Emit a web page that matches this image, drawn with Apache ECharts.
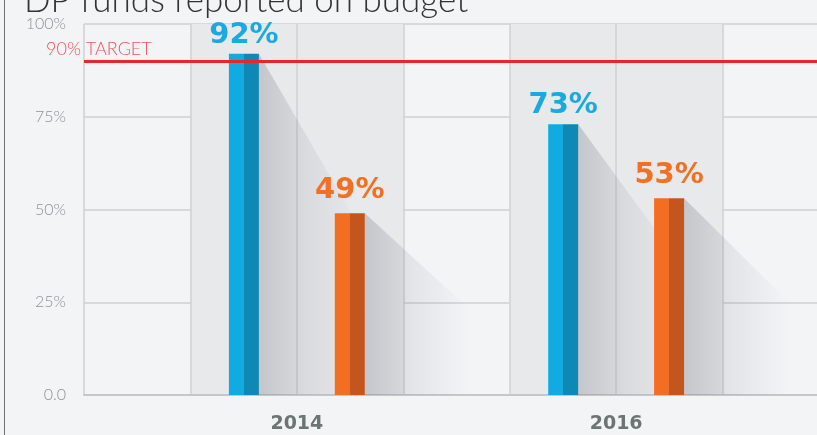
<!DOCTYPE html>
<html><head><meta charset="utf-8">
<script src="https://cdn.jsdelivr.net/npm/echarts@6/dist/echarts.min.js"></script>
<style>html,body{margin:0;padding:0;background:#f3f4f6}#c{width:817px;height:435px}</style>
</head><body><div id="c"></div>
<script>
const titleText = 'DP funds reported on budget';
const years = ['2014', '2016'];
const blueValues = [92, 73];
const orangeValues = [49, 53];
const yTickLabels = ['0.0', '25%', '50%', '75%', '100%'];
const targetValue = 90;
const targetLabel = '90% TARGET';

// axis slots: padding columns around each year
const slots = [''];
years.forEach(y => slots.push('', y, ''));
slots.push('');
const slotOf = y => slots.indexOf(y);
const blueData = years.map((y, i) => [slotOf(y), blueValues[i]]);
const orangeData = years.map((y, i) => [slotOf(y), orangeValues[i]]);

const barW = 30, gapRatio = 2.53;
const barOffset = barW * (1 + gapRatio) / 2;

function twoTone(light, dark) {
  return new echarts.graphic.LinearGradient(0, 0, 1, 0, [
    {offset: 0, color: light}, {offset: 0.5, color: light},
    {offset: 0.5, color: dark}, {offset: 1, color: dark}
  ]);
}

function shadowSeries(data, side) {
  return {
    type: 'custom', z: 1, silent: true, data: data,
    renderItem: function (params, api) {
      const slot = api.value(0), v = api.value(1);
      const top = api.coord([slot, v]);
      const base = api.coord([slot, 0]);
      const xr = top[0] + side * barOffset + barW / 2;
      const h = base[1] - top[1];
      const w = 105;
      return {
        type: 'polygon',
        shape: {points: [[xr, top[1]], [xr + w, top[1] + h * 0.53], [xr + w, base[1]], [xr, base[1]]]},
        style: {fill: new echarts.graphic.LinearGradient(0, 0, 1, 0, [
          {offset: 0, color: 'rgba(70,76,92,0.22)'},
          {offset: 0.45, color: 'rgba(70,76,92,0.09)'},
          {offset: 1, color: 'rgba(70,76,92,0)'}
        ])}
      };
    }
  };
}

const thin = 'Lato';
const chart = echarts.init(document.getElementById('c'), null, {renderer: 'canvas'});
chart.setOption({
  animation: false,
  backgroundColor: '#f3f4f6',
  title: {
    text: titleText, left: 19, top: -22,
    textStyle: {fontFamily: thin, fontWeight: 300, fontSize: 35, color: '#333333'}
  },
  graphic: [{
    type: 'line', shape: {x1: 4.5, y1: 0, x2: 4.5, y2: 435},
    style: {stroke: '#707070', lineWidth: 1}, z: 100
  }],
  grid: {left: 84, top: 24, height: 371, width: 745, containLabel: false, outerBoundsMode: 'none'},
  xAxis: {
    type: 'category', data: slots, boundaryGap: false,
    axisTick: {show: false},
    axisLine: {show: true, lineStyle: {color: '#c6c7c8', width: 2}},
    axisLabel: {interval: 0, margin: 20, color: '#6b7574', fontFamily: 'DejaVu Sans', fontWeight: 'bold', fontSize: 19},
    splitLine: {show: true, interval: 0, lineStyle: {color: '#cfd0d2', width: 1.5}},
    splitArea: {show: true, interval: 0, areaStyle: {color: ['rgba(0,0,0,0)', '#e8e9eb', '#e8e9eb']}}
  },
  yAxis: {
    type: 'value', min: 0, max: 100, interval: 25,
    axisLine: {show: false}, axisTick: {show: false},
    axisLabel: {margin: 18, color: '#8a9393', fontFamily: thin, fontWeight: 300, fontSize: 16,
      formatter: v => yTickLabels[Math.round(v / 25)]},
    splitLine: {lineStyle: {color: '#d0d1d2', width: 1.5}}
  },
  series: [
    shadowSeries(blueData, -1),
    shadowSeries(orangeData, 1),
    {
      type: 'bar', name: 'Blue', data: blueData, z: 3, barWidth: barW, barGap: (gapRatio * 100) + '%',
      itemStyle: {color: twoTone('#11abe2', '#0e89b4')},
      label: {show: true, position: 'top', distance: 4, formatter: p => p.value[1] + '%',
        color: '#1ba9e1', fontFamily: 'DejaVu Sans', fontWeight: 'bold', fontSize: 29},
      markLine: {
        silent: true, symbol: 'none', z: 5,
        lineStyle: {color: '#e8242c', width: 3, type: 'solid'},
        label: {show: true, position: 'insideStartTop', distance: [-38, 3], formatter: targetLabel,
          color: '#f0525a', fontFamily: thin, fontWeight: 300, fontSize: 18},
        data: [{yAxis: targetValue}]
      }
    },
    {
      type: 'bar', name: 'Orange', data: orangeData, z: 3, barWidth: barW, barGap: (gapRatio * 100) + '%',
      itemStyle: {color: twoTone('#f26e22', '#c2561e')},
      label: {show: true, position: 'top', distance: 8, formatter: p => p.value[1] + '%',
        color: '#f07024', fontFamily: 'DejaVu Sans', fontWeight: 'bold', fontSize: 29}
    }
  ]
});
</script></body></html>
